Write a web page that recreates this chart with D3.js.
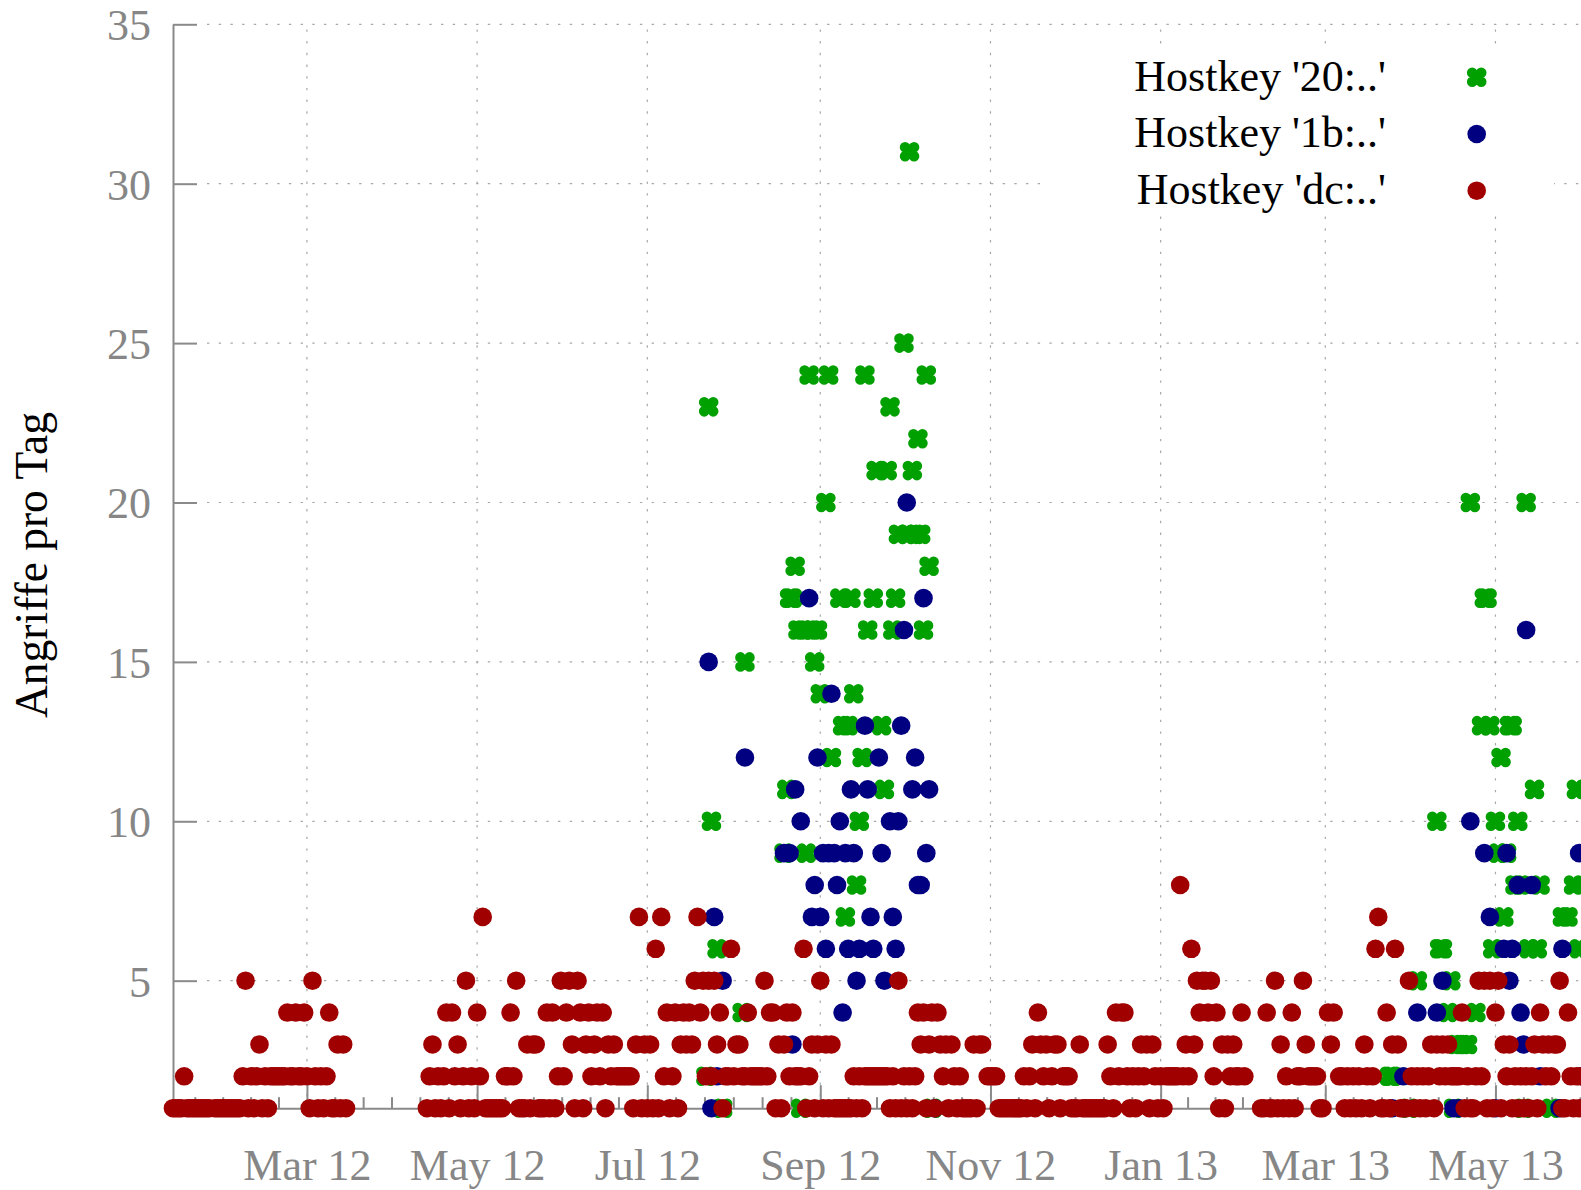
<!DOCTYPE html>
<html>
<head>
<meta charset="utf-8">
<script src="https://cdn.jsdelivr.net/npm/d3@7"></script>
<style>
  body { margin: 0; background: #fff; }
  svg { display: block; }
</style>
</head>
<body>
<svg id="chart" width="1581" height="1190"></svg>
<script>
// ---- data -------------------------------------------------------------
// Attacks per day for three SSH host keys. Day offsets count from firstDay.
const firstDay = "2012-01-13";
const lastDay = "2013-06-30";
const yTicks = [5, 10, 15, 20, 25, 30, 35];
const seriesNames = ["Hostkey '20:..'", "Hostkey '1b:..'", "Hostkey 'dc:..'"];
const seriesColors = ["#00a000", "#000080", "#a00000"];

// Hostkey 'dc:..' : one value per day (null = no attack that day)
const dcDaily = [
  1,1,1,1,2,1,1,1,1,1,   1,1,1,1,null,1,1,1,1,1,
  1,1,1,1,1,2,5,1,2,1,   2,3,1,2,1,2,2,2,2,2,
  2,4,2,2,4,2,2,4,2,1,   5,2,1,2,1,2,4,1,1,3,
  1,3,1,null,null,null,null,null,null,null,
  null,null,null,null,null,null,null,null,null,null,
  null,null,null,null,null,null,null,null,null,null,
  null,1,2,3,1,2,1,2,4,1, 4,2,3,1,2,5,1,2,1,4,
  2,7,1,1,1,1,1,1,1,2,   2,4,2,5,1,1,1,3,1,3,
  3,1,1,1,4,1,4,1,2,5,   2,4,5,3,1,5,4,1,3,4,
  2,3,4,2,4,1,3,2,3,2,   2,2,2,2,2,1,3,7,1,3,
  1,3,1,6,1,7,2,4,1,2,   4,1,3,4,3,4,3,5,7,4,
  5,2,5,2,5,3,4,1,2,2,   6,2,3,3,2,2,4,2,2,2,
  2,2,5,2,4,4,1,3,1,3,   4,2,4,2,2,2,6,1,2,3,
  1,3,5,1,3,1,3,1,1,1,   1,1,1,1,2,1,2,1,2,2,
  2,2,2,2,2,2,2,1,2,1,   5,1,2,1,2,1,2,4,3,4,
  1,3,4,1,4,3,2,3,1,3,   2,1,2,1,1,1,1,3,1,3,
  3,null,2,2,2,2,1,1,1,1, 1,1,1,1,1,2,1,2,3,1,
  4,3,2,3,1,2,3,3,1,2,   2,2,1,1,1,3,1,1,1,1,
  1,1,1,1,1,3,2,1,4,2,   4,4,2,1,2,1,2,3,2,3,
  1,3,2,1,2,1,2,2,2,2,   2,8,2,3,2,6,3,5,4,5,
  5,4,5,2,4,1,3,1,3,2,   3,2,2,4,2,null,null,null,null,null,
  1,1,4,1,1,5,1,3,1,2,   1,4,1,2,2,5,3,2,2,2,
  2,1,1,null,4,3,4,null,2,2, 1,2,1,2,1,2,1,3,2,1,
  2,6,7,1,1,4,1,3,6,3,   1,1,1,5,2,1,2,1,2,1,
  2,3,1,3,2,3,2,3,2,2,   2,2,4,1,2,1,1,2,5,2,
  5,1,5,1,4,5,1,3,2,3,   1,2,1,2,1,2,1,2,3,1,
  4,3,2,3,2,3,3,5,1,1,   4,2,1,2,1,2,1
];

// Hostkey '1b:..' : [day offset, attacks]
const key1bPoints = [
  [192,15],[193,1],[194,7],[195,2],[197,5],[205,12],[219,9],[221,9],[222,3],[223,11],
  [225,10],[228,17],[229,7],[230,8],[231,12],[232,7],[233,9],[234,6],[235,9],[236,14],
  [237,9],[238,8],[239,10],[240,4],[241,9],[242,6],[243,11],[244,9],[245,5],[246,6],
  [248,13],[249,11],[250,7],[251,6],[253,12],[254,9],[255,5],[257,10],[258,7],[259,6],
  [260,10],[261,13],[262,16],[263,20],[265,11],[266,12],[267,8],[268,8],[269,17],[270,9],
  [271,11],[273,1],
  [437,1],[441,2],[446,4],[453,4],[455,5],[459,1],[461,1],[465,10],[470,9],[472,7],
  [474,1],[477,6],[478,9],[479,5],[480,6],[482,8],[483,4],[484,3],[485,16],[487,8],
  [490,2],[497,1],[498,6],[504,9],[505,2]
];

// Hostkey '20:..' : [day offset, attacks]
const key20Points = [
  [191,2],[192,23],[193,10],[195,6],[197,1],[204,4],[205,15],[219,9],[220,11],[221,17],
  [222,17],[223,18],[224,16],[225,1],[226,16],[227,9],[228,24],[229,16],[230,15],[231,16],
  [232,14],[234,20],[235,24],[236,12],[239,17],[240,13],[241,7],[242,13],[243,17],[244,14],
  [245,8],[246,10],[247,12],[248,24],[249,16],[251,17],[252,21],[254,13],[255,11],[256,21],
  [257,23],[258,16],[259,17],[260,19],[262,25],[263,19],[264,31],[265,21],[266,19],[267,22],
  [268,19],[269,16],[270,24],[271,18],[272,1],
  [436,2],[437,2],[443,1],[446,5],[453,10],[454,6],[455,6],[457,4],[458,5],[459,1],
  [460,3],[462,3],[464,3],[465,20],[467,4],[469,13],[470,17],[471,17],[472,13],[473,6],
  [474,10],[475,9],[476,12],[477,7],[478,9],[479,13],[480,13],[481,8],[482,10],[483,8],
  [484,1],[485,20],[486,6],[488,11],[489,6],[490,8],[494,1],[498,7],[500,7],[502,8],
  [503,11],[504,6]
];

// ---- layout -----------------------------------------------------------
const W = 1581, H = 1190;
const plotLeft = 173, plotTop = 24.3, plotBottom = 1108.2;
const pxPerDay = 2.79;
const font = "'Liberation Serif', 'Times New Roman', serif";
const axisGray = "#8a8a8a";

const t0 = new Date(firstDay + "T00:00:00Z");
const t1 = new Date(lastDay + "T00:00:00Z");
const spanDays = d3.utcDay.count(t0, t1);

const x = d3.scaleUtc().domain([t0, t1]).range([plotLeft, plotLeft + pxPerDay * spanDays]);
const y = d3.scaleLinear().domain([1, 35]).range([plotBottom, plotTop]);
const dayAt = i => d3.utcDay.offset(t0, i);

const svg = d3.select("#chart");
svg.append("rect").attr("width", W).attr("height", H).attr("fill", "#fff");

// ---- grid -------------------------------------------------------------
const majorTicks = x.ticks(d3.utcMonth.every(2));
const grid = svg.append("g")
  .attr("stroke", "#a8a8a8")
  .attr("stroke-width", 1.2)
  .attr("stroke-dasharray", "2.4 9.3");
grid.selectAll(null).data(majorTicks).join("line")
  .attr("x1", d => x(d)).attr("x2", d => x(d))
  .attr("y1", y(1)).attr("y2", y(35));
grid.selectAll(null).data(yTicks).join("line")
  .attr("x1", plotLeft + 34).attr("x2", W)
  .attr("y1", d => y(d)).attr("y2", d => y(d));

// ---- legend box (white background hides the grid) ---------------------
svg.append("rect")
  .attr("x", 1044).attr("y", 48).attr("width", 510).attr("height", 167)
  .attr("fill", "#fff");

// ---- axes -------------------------------------------------------------
function styleAxis(g) {
  g.attr("font-family", font).attr("font-size", 44);
  g.select(".domain").attr("stroke", axisGray).attr("stroke-width", 2);
  g.selectAll(".tick line").attr("stroke", axisGray).attr("stroke-width", 2);
  g.selectAll(".tick text").attr("fill", "#868686");
}

const yAxis = d3.axisLeft(y).tickValues(yTicks).tickSize(-24).tickSizeOuter(0).tickPadding(22);
svg.append("g").attr("transform", `translate(${plotLeft},0)`).call(yAxis).call(styleAxis)
  .selectAll(".tick text").attr("dy", "0.35em");

// minor ticks: six per two-month interval
const bounds = [d3.utcMonth.offset(majorTicks[0], -2), ...majorTicks, d3.utcMonth.offset(majorTicks[majorTicks.length - 1], 2)];
const minorTicks = [];
for (let i = 0; i < bounds.length - 1; i++) {
  const a = +bounds[i], b = +bounds[i + 1];
  for (let k = 1; k < 6; k++) minorTicks.push(new Date(a + (b - a) * k / 6));
}
const xPlot = minorTicks.filter(d => x(d) > plotLeft + 1 && x(d) < W + 5);

const xAxis = d3.axisBottom(x).tickValues(majorTicks).tickFormat(d3.utcFormat("%b %y"))
  .tickSize(-23).tickSizeOuter(0).tickPadding(41);
const xg = svg.append("g").attr("transform", `translate(0,${plotBottom})`).call(xAxis).call(styleAxis);
xg.selectAll(null).data(xPlot).join("line")
  .attr("x1", d => x(d)).attr("x2", d => x(d))
  .attr("y1", 0).attr("y2", -11)
  .attr("stroke", axisGray).attr("stroke-width", 2);

// y-axis title
svg.append("text")
  .attr("transform", `translate(47,565) rotate(-90)`)
  .attr("text-anchor", "middle")
  .attr("font-family", font).attr("font-size", 45.5).attr("fill", "#000")
  .text("Angriffe pro Tag");

// ---- marks ------------------------------------------------------------
// four-lobed filled marker used for Hostkey '20:..'
const clover = {
  draw(ctx) {
    const r = 5.3, o = 4.5;
    [[-o, -o], [o, -o], [o, o], [-o, o], [0, 0]].forEach(([cx, cy]) => {
      ctx.moveTo(cx + r, cy);
      ctx.arc(cx, cy, r, 0, 2 * Math.PI);
    });
  }
};
const cloverPath = d3.symbol(clover)();
const dotR = 9.3;

const marks = svg.append("g");

marks.append("g").selectAll("path")
  .data(key20Points).join("path")
  .attr("d", cloverPath)
  .attr("transform", d => `translate(${x(dayAt(d[0]))},${y(d[1])})`)
  .attr("fill", seriesColors[0]);

marks.append("g").selectAll("circle")
  .data(key1bPoints).join("circle")
  .attr("cx", d => x(dayAt(d[0]))).attr("cy", d => y(d[1])).attr("r", dotR)
  .attr("fill", seriesColors[1]);

const dcPoints = dcDaily.map((v, i) => [i, v]).filter(d => d[1] != null);
marks.append("g").selectAll("circle")
  .data(dcPoints).join("circle")
  .attr("cx", d => x(dayAt(d[0]))).attr("cy", d => y(d[1])).attr("r", dotR)
  .attr("fill", seriesColors[2]);

// ---- legend entries ---------------------------------------------------
const legend = svg.append("g");
seriesNames.forEach((name, i) => {
  const cy = 77.3 + i * 56.7;
  legend.append("text")
    .attr("x", 1386).attr("y", cy + 13.4)
    .attr("text-anchor", "end")
    .attr("font-family", font).attr("font-size", 44).attr("fill", "#000")
    .text(name);
  if (i === 0) {
    legend.append("path").attr("d", cloverPath)
      .attr("transform", `translate(1476.7,${cy})`).attr("fill", seriesColors[i]);
  } else {
    legend.append("circle").attr("cx", 1476.7).attr("cy", cy).attr("r", dotR)
      .attr("fill", seriesColors[i]);
  }
});
</script>
</body>
</html>
